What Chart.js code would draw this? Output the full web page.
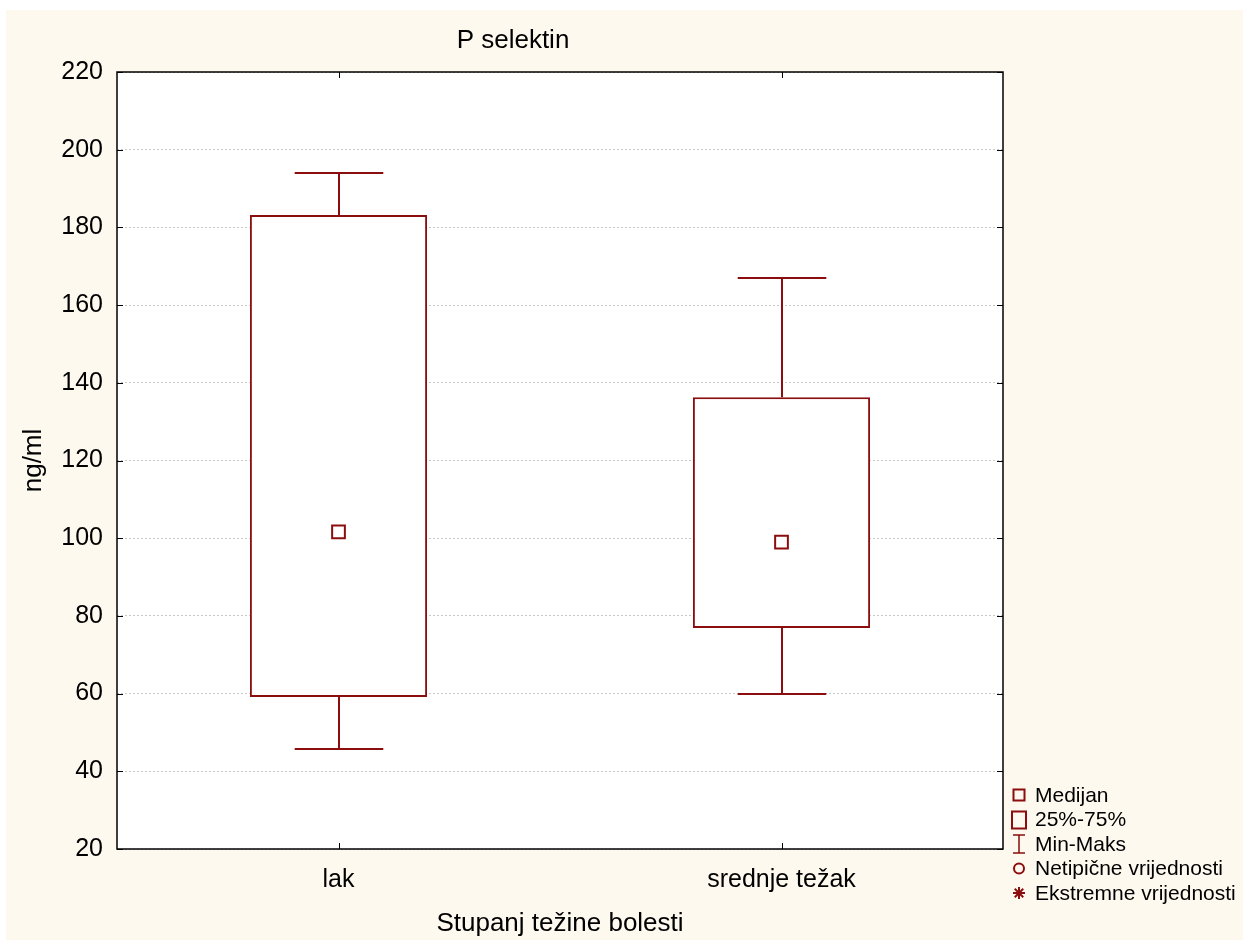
<!DOCTYPE html>
<html>
<head>
<meta charset="utf-8">
<script src="https://cdn.jsdelivr.net/npm/chart.js@4.4.1/dist/chart.umd.min.js"></script>
<style>
  body { margin: 0; background: #ffffff; }
  #wrap { position: absolute; left: 6px; top: 10px; width: 1237px; height: 930px; background: #fdf9ef; }
  canvas { display: block; }
</style>
</head>
<body>
<div id="wrap"><canvas id="chart" width="1237" height="930"></canvas></div>
<script>
// Data
const categories = ['lak', 'srednje težak'];
const minVals = [45.7, 59.9];
const q1Vals = [59.1, 76.9];
const medianVals = [101.6, 99.0];
const q3Vals = [183.2, 136.3];
const maxVals = [194.0, 167.0];
const yTicks = [20, 40, 60, 80, 100, 120, 140, 160, 180, 200, 220];
const legendLabels = ['Medijan', '25%-75%', 'Min-Maks', 'Netipične vrijednosti', 'Ekstremne vrijednosti'];

const RED = '#8b0d0d';
const FONT = 'Arial, "Liberation Sans", sans-serif';

// ==============================
// Plugin: white plot area, frame, inward ticks, whiskers, title, legend
// ==============================
const boxExtras = {
  id: 'boxExtras',
  beforeDraw(chart) {
    const a = chart.chartArea;
    const ctx = chart.ctx;
    ctx.save();
    ctx.fillStyle = '#ffffff';
    ctx.fillRect(a.left, a.top, a.right - a.left, a.bottom - a.top);
    ctx.restore();
  },
  afterDatasetsDraw(chart) {
    const ctx = chart.ctx;
    const x = chart.scales.x, y = chart.scales.y;
    const bars = chart.getDatasetMeta(0).data;
    ctx.save();
    ctx.strokeStyle = RED;
    ctx.lineWidth = 2;
    categories.forEach((c, i) => {
      const cx = Math.round(x.getPixelForValue(i));
      const half = bars[i].width / 4;
      ctx.beginPath();
      ctx.moveTo(cx, y.getPixelForValue(q3Vals[i]));
      ctx.lineTo(cx, y.getPixelForValue(maxVals[i]));
      ctx.moveTo(cx, y.getPixelForValue(q1Vals[i]));
      ctx.lineTo(cx, y.getPixelForValue(minVals[i]));
      const yMax = Math.round(y.getPixelForValue(maxVals[i]));
      const yMin = Math.round(y.getPixelForValue(minVals[i]));
      ctx.moveTo(cx - half, yMax); ctx.lineTo(cx + half, yMax);
      ctx.moveTo(cx - half, yMin); ctx.lineTo(cx + half, yMin);
      ctx.stroke();
    });
    ctx.restore();
  },
  afterDraw(chart) {
    const ctx = chart.ctx;
    const a = chart.chartArea;
    const x = chart.scales.x, y = chart.scales.y;
    ctx.save();
    // frame
    ctx.strokeStyle = '#000';
    ctx.lineWidth = 1.5;
    ctx.strokeRect(a.left, a.top, a.right - a.left, a.bottom - a.top);
    // inward ticks
    ctx.lineWidth = 1;
    ctx.beginPath();
    yTicks.forEach(v => {
      const py = Math.round(y.getPixelForValue(v)) + 0.5;
      ctx.moveTo(a.left, py); ctx.lineTo(a.left + 6, py);
      ctx.moveTo(a.right, py); ctx.lineTo(a.right - 6, py);
    });
    categories.forEach((c, i) => {
      const px = Math.round(x.getPixelForValue(i)) + 0.5;
      ctx.moveTo(px, a.bottom); ctx.lineTo(px, a.bottom - 6);
      ctx.moveTo(px, a.top); ctx.lineTo(px, a.top + 6);
    });
    ctx.stroke();

    // title
    ctx.fillStyle = '#000';
    ctx.font = '26px ' + FONT;
    ctx.textAlign = 'center';
    ctx.textBaseline = 'middle';
    ctx.fillText('P selektin', 507, 31);

    // legend
    ctx.font = '21px ' + FONT;
    ctx.textAlign = 'left';
    const lx = a.right + 16, ix = a.right + 16;
    legendLabels.forEach((lab, k) => {
      const cy = 785 + k * 24.5;
      ctx.strokeStyle = RED;
      ctx.fillStyle = RED;
      ctx.lineWidth = 2;
      ctx.beginPath();
      if (k === 0) {
        ctx.strokeRect(ix - 5.5, cy - 5.5, 11, 11);
      } else if (k === 1) {
        ctx.strokeRect(ix - 7, cy - 8, 14, 17);
      } else if (k === 2) {
        ctx.lineWidth = 1.5;
        ctx.moveTo(ix - 6, cy - 9); ctx.lineTo(ix + 6, cy - 9);
        ctx.moveTo(ix, cy - 9); ctx.lineTo(ix, cy + 9);
        ctx.moveTo(ix - 6, cy + 9); ctx.lineTo(ix + 6, cy + 9);
        ctx.stroke();
      } else if (k === 3) {
        ctx.arc(ix, cy, 5, 0, Math.PI * 2);
        ctx.stroke();
      } else {
        for (let t = 0; t < 4; t++) {
          const ang = t * Math.PI / 4;
          ctx.moveTo(ix - 6 * Math.cos(ang), cy - 6 * Math.sin(ang));
          ctx.lineTo(ix + 6 * Math.cos(ang), cy + 6 * Math.sin(ang));
        }
        ctx.stroke();
      }
      ctx.fillStyle = '#000';
      ctx.fillText(lab, lx + 16, cy + 1);
    });
    ctx.restore();
  }
};

// ==============================
// Chart
// ==============================
new Chart(document.getElementById('chart'), {
  data: {
    labels: categories,
    datasets: [
      {
        type: 'bar',
        label: '25%-75%',
        data: q1Vals.map((q, i) => [q, q3Vals[i]]),
        backgroundColor: '#ffffff',
        borderColor: RED,
        borderWidth: 2,
        borderSkipped: false,
        barPercentage: 0.4,
        categoryPercentage: 1.0,
        order: 2
      },
      {
        type: 'line',
        label: 'Medijan',
        data: medianVals,
        showLine: false,
        pointStyle: 'rect',
        pointRadius: 9,
        pointBorderWidth: 2,
        pointBackgroundColor: '#ffffff',
        pointBorderColor: RED,
        order: 1
      }
    ]
  },
  options: {
    responsive: false,
    animation: false,
    layout: { padding: { top: 62, right: 240, bottom: 0, left: 0 } },
    plugins: { legend: { display: false }, tooltip: { enabled: false } },
    scales: {
      x: {
        grid: { display: false, drawTicks: false },
        border: { display: false },
        ticks: { color: '#000', font: { size: 25, family: FONT }, padding: 16 },
        title: { display: true, text: 'Stupanj težine bolesti', color: '#000', font: { size: 26, family: FONT }, padding: 1 },
        afterFit: s => { s.height = 91; }
      },
      y: {
        min: 20,
        max: 220,
        afterBuildTicks: s => { s.ticks = yTicks.map(v => ({ value: v })); },
        grid: { color: '#c8c8c8', lineWidth: 1, drawTicks: false },
        border: { display: false, dash: [2, 2] },
        ticks: { color: '#000', font: { size: 25, family: FONT }, padding: 14 },
        title: { display: true, text: 'ng/ml', color: '#000', font: { size: 26, family: FONT }, padding: 12 },
        afterFit: s => { s.width = 111; }
      }
    }
  },
  plugins: [boxExtras]
});
</script>
</body>
</html>
